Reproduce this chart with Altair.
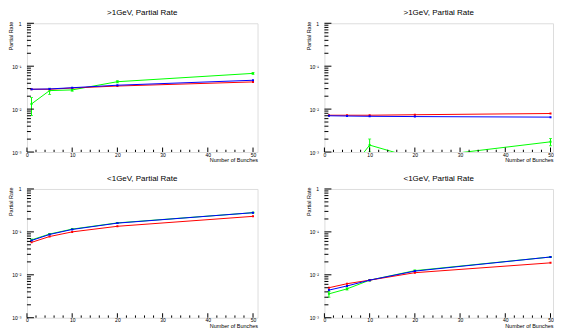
import altair as alt
import pandas as pd

# ---- data ----
X = [1, 5, 10, 20, 50]

TITLES = [">1GeV, Partial Rate", ">1GeV, Partial Rate",
          "<1GeV, Partial Rate", "<1GeV, Partial Rate"]

tl_red = [0.029, 0.029, 0.031, 0.0345, 0.043]
tl_blue = [0.029, 0.0295, 0.0315, 0.036, 0.047]
tl_green = [0.0132, 0.027, 0.028, 0.0435, 0.068]
tl_green_lo = [0.0071, 0.022, 0.026, 0.041, 0.065]
tl_green_hi = [0.0186, 0.0305, 0.030, 0.046, 0.071]

tr_red = [0.0072, 0.0072, 0.0072, 0.0074, 0.0079]
tr_blue = [0.0070, 0.0069, 0.0068, 0.0067, 0.0065]
tr_green = [0.0003, 0.00031, 0.00145, 0.00072, 0.00173]
tr_green_lo = [0.0002, 0.0002, 0.0010, 0.0005, 0.0014]
tr_green_hi = [0.0004, 0.0004, 0.0020, 0.0009, 0.00207]

bl_red = [0.057, 0.078, 0.100, 0.135, 0.23]
bl_blue = [0.063, 0.087, 0.114, 0.160, 0.28]
bl_green = [0.065, 0.089, 0.116, 0.162, 0.28]
bl_green_lo = [0.062, 0.086, 0.113, 0.158, 0.275]
bl_green_hi = [0.068, 0.092, 0.119, 0.166, 0.285]

br_red = [0.0050, 0.0062, 0.0075, 0.0112, 0.019]
br_blue = [0.0044, 0.0055, 0.0075, 0.0122, 0.026]
br_green = [0.0036, 0.0047, 0.0075, 0.0125, 0.026]
br_green_lo = [0.0030, 0.0044, 0.0072, 0.0121, 0.0255]
br_green_hi = [0.0041, 0.0050, 0.0078, 0.0129, 0.0265]

X_MAJOR = [0, 10, 20, 30, 40, 50]
X_MINOR = [2, 4, 6, 8, 12, 14, 16, 18, 22, 24, 26, 28, 32, 34, 36, 38, 42, 44, 46, 48]
Y_MAJOR = [0.001, 0.01, 0.1, 1]
Y_MINOR = [m * d for d in [0.001, 0.01, 0.1] for m in [2, 3, 4, 5, 6, 7, 8, 9]]

RED, BLUE, GREEN = "#ff0000", "#0000ff", "#00ff00"
FONT = "Liberation Sans"
H = 129


def panel(title, red, blue, green, glo, ghi, width, xmax):
    xscale = alt.Scale(domain=[0, xmax], nice=False, zero=False)
    yscale = alt.Scale(type="log", domain=[0.001, 1], nice=False)
    xaxis = alt.Axis(values=X_MAJOR, title="Number of Bunches", titleAnchor="end",
                     titleFont=FONT, titleFontSize=5.5, titleFontWeight="normal",
                     titleColor="black", titleY=5.5, titleBaseline="top",
                     labelFont=FONT, labelFontSize=5, labelColor="black",
                     labelPadding=0, labelFlush=False, labelOverlap=False,
                     ticks=False, tickSize=0, domain=False, grid=False)
    yaxis = alt.Axis(values=Y_MAJOR,
                     labelExpr="datum.value >= 0.5 ? '1' : datum.value >= 0.05 ? '10\u207b\u00b9' : datum.value >= 0.005 ? '10\u207b\u00b2' : '10\u207b\u00b3'",
                     title="Partial Rate", titleFont=FONT, titleFontSize=5.5,
                     titleFontWeight="normal", titleColor="black",
                     titleAngle=270, titleAlign="right", titleX=-16, titleY=-2,
                     titleBaseline="middle",
                     labelFont=FONT, labelFontSize=5, labelColor="black",
                     labelPadding=6, labelOverlap=False, labelFlush=False,
                     ticks=False, tickSize=0, domain=False, grid=False)
    xe = alt.X("x:Q", scale=xscale, axis=xaxis)
    ye = alt.Y("y:Q", scale=yscale, axis=yaxis)

    dg = pd.DataFrame({"x": X, "y": green, "lo": glo, "hi": ghi})
    dr = pd.DataFrame({"x": X, "y": red})
    db = pd.DataFrame({"x": X, "y": blue})

    layers = []
    # green with error bars
    layers.append(alt.Chart(dg).mark_line(color=GREEN, strokeWidth=1, clip=True).encode(x=xe, y=ye))
    layers.append(alt.Chart(dg).mark_rule(color=GREEN, strokeWidth=1, clip=True).encode(
        x=xe, y=alt.Y("lo:Q", scale=yscale, axis=yaxis), y2="hi:Q"))
    layers.append(alt.Chart(dg).mark_tick(color=GREEN, orient="horizontal", size=3, thickness=1, clip=True).encode(
        x=xe, y=alt.Y("lo:Q", scale=yscale, axis=yaxis)))
    layers.append(alt.Chart(dg).mark_tick(color=GREEN, orient="horizontal", size=3, thickness=1, clip=True).encode(
        x=xe, y=alt.Y("hi:Q", scale=yscale, axis=yaxis)))
    layers.append(alt.Chart(dg).mark_square(color=GREEN, size=4, opacity=1, clip=True).encode(x=xe, y=ye))
    for d, c in [(dr, RED), (db, BLUE)]:
        layers.append(alt.Chart(d).mark_line(color=c, strokeWidth=1, clip=True).encode(x=xe, y=ye))
        layers.append(alt.Chart(d).mark_square(color=c, size=4, opacity=1, clip=True).encode(x=xe, y=ye))

    # inward ticks
    layers.append(alt.Chart(pd.DataFrame({"x": X_MAJOR})).mark_rule(color="black", strokeWidth=1).encode(
        x=xe, y=alt.value(H), y2=alt.value(H - 4.5)))
    layers.append(alt.Chart(pd.DataFrame({"x": X_MINOR})).mark_rule(color="black", strokeWidth=1).encode(
        x=xe, y=alt.value(H), y2=alt.value(H - 2.3)))
    layers.append(alt.Chart(pd.DataFrame({"y": Y_MAJOR})).mark_rule(color="black", strokeWidth=1).encode(
        y=ye, x=alt.value(0), x2=alt.value(7)))
    layers.append(alt.Chart(pd.DataFrame({"y": Y_MINOR})).mark_rule(color="black", strokeWidth=1).encode(
        y=ye, x=alt.value(0), x2=alt.value(4)))

    # panel title
    layers.append(alt.Chart(pd.DataFrame({"t": [title]})).mark_text(
        font=FONT, fontSize=8, color="black", align="center", baseline="alphabetic").encode(
        text="t:N", x=alt.value(width / 2), y=alt.value(-8)))

    return alt.layer(*layers).properties(width=width, height=H)


tl = panel(TITLES[0], tl_red, tl_blue, tl_green, tl_green_lo, tl_green_hi, 231, 51)
tr = panel(TITLES[1], tr_red, tr_blue, tr_green, tr_green_lo, tr_green_hi, 229, 50.55)
bl = panel(TITLES[2], bl_red, bl_blue, bl_green, bl_green_lo, bl_green_hi, 231, 51)
br = panel(TITLES[3], br_red, br_blue, br_green, br_green_lo, br_green_hi, 229, 50.55)

chart = alt.concat(tl, tr, bl, br, columns=2, spacing={"row": 37, "column": 67},
                   bounds="flush").properties(padding=0).configure_view(
    stroke="black", strokeWidth=1).configure(background="white")

chart.save("out.html", embed_options={"renderer": "svg", "actions": False})
